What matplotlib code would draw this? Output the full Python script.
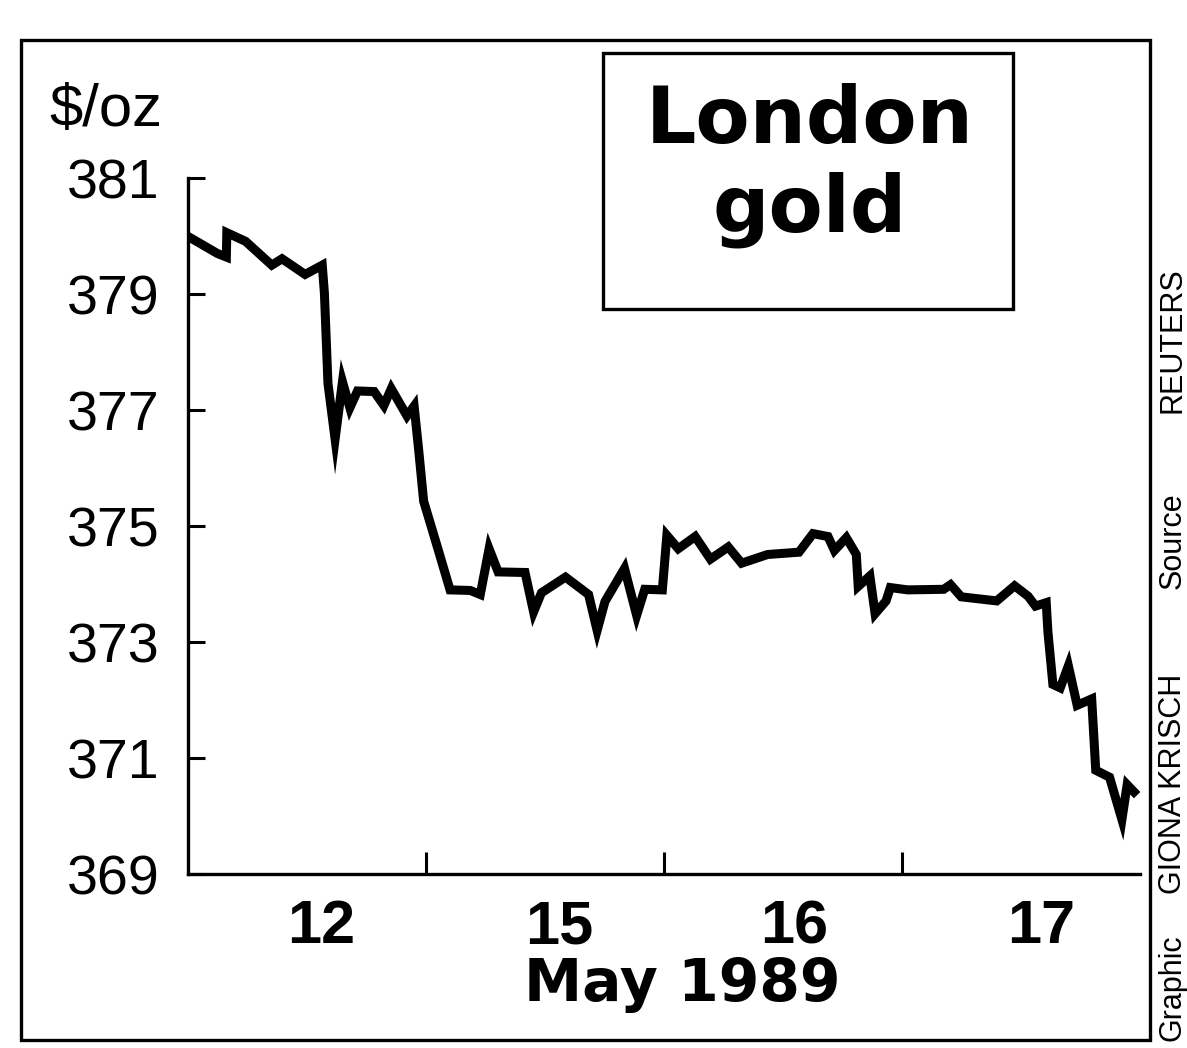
import matplotlib
matplotlib.use("Agg")
import matplotlib.pyplot as plt
from matplotlib.patches import Rectangle

# ---- data ----
day_labels = ["12", "15", "16", "17"]
year_label = "May 1989"
y_ticks = [369, 371, 373, 375, 377, 379, 381]
# x in trading-day units (0 = start of 12 May, 4 = end of 17 May)
t = [0.00, 0.126, 0.163, 0.165, 0.244, 0.354, 0.397, 0.494, 0.566, 0.575,
     0.59, 0.62, 0.651, 0.682, 0.714, 0.784, 0.825, 0.856, 0.922, 0.952,
     0.972, 0.992, 1.054, 1.103, 1.188, 1.23, 1.267, 1.305, 1.418, 1.454,
     1.487, 1.588, 1.685, 1.721, 1.754, 1.836, 1.887, 1.921, 1.995, 2.014,
     2.062, 2.133, 2.197, 2.272, 2.328, 2.437, 2.569, 2.628, 2.691, 2.718,
     2.768, 2.810, 2.818, 2.867, 2.889, 2.935, 2.953, 3.026, 3.177, 3.206,
     3.251, 3.400, 3.475, 3.532, 3.563, 3.608, 3.615, 3.636, 3.667, 3.701,
     3.738, 3.799, 3.816, 3.874, 3.926, 3.948, 3.99]
price = [380.0, 379.70, 379.64, 380.06, 379.91, 379.50, 379.61, 379.34, 379.50, 379.02,
         377.46, 376.5, 377.49, 377.04, 377.33, 377.32, 377.08, 377.37, 376.90, 377.07,
         376.28, 375.43, 374.58, 373.90, 373.89, 373.82, 374.61, 374.21, 374.20, 373.52,
         373.85, 374.12, 373.82, 373.20, 373.70, 374.27, 373.46, 373.91, 373.90, 374.84,
         374.61, 374.82, 374.43, 374.64, 374.36, 374.51, 374.55, 374.87, 374.82, 374.58,
         374.80, 374.51, 373.96, 374.14, 373.49, 373.71, 373.94, 373.90, 373.91, 373.99,
         373.78, 373.71, 373.97, 373.79, 373.62, 373.68, 373.18, 372.27, 372.21, 372.59,
         371.91, 372.02, 370.79, 370.67, 369.94, 370.54, 370.36]

sans = ["Liberation Sans", "DejaVu Sans"]

fig = plt.figure(figsize=(11.87, 10.48), dpi=100)
fig.patch.set_facecolor("white")

ax = fig.add_axes([0.158, 0.166, 0.802, 0.664])
ax.plot(t, price, color="black", lw=6.5, solid_joinstyle="miter", solid_capstyle="butt")
ax.set_xlim(0, 4)
ax.set_ylim(369, 381)

for s in ["top", "right"]:
    ax.spines[s].set_visible(False)
for s in ["left", "bottom"]:
    ax.spines[s].set_linewidth(2.4)
    ax.spines[s].set_color("black")

ax.set_yticks(y_ticks)
ax.set_yticklabels([str(v) for v in y_ticks], fontfamily=sans, fontsize=40)
ax.tick_params(axis="y", direction="in", length=12, width=2.2, pad=20, colors="black")

ax.set_xticks([1, 2, 3], minor=True)
ax.set_xticks([0.56, 1.56, 2.55, 3.585])
ax.set_xticklabels(day_labels, fontfamily=sans, fontweight="bold", fontsize=44)
ax.tick_params(axis="x", which="major", length=0, pad=18)
ax.tick_params(axis="x", which="minor", direction="in", length=16, width=2.2)
ax.set_xlabel(year_label, fontfamily=["DejaVu Sans"], fontweight="bold", fontsize=42)
ax.xaxis.set_label_coords(0.52, -0.118)
ax.xaxis.label.set_va("top")

# unit label
fig.text(0.089, 0.895, "$/oz", fontfamily=sans, fontsize=43, ha="center", va="center")

# title box
fig.patches.append(Rectangle((0.508, 0.705), 0.345, 0.244, transform=fig.transFigure,
                             fill=False, lw=2.4, edgecolor="black"))
fig.text(0.682, 0.885, "London", fontfamily=["DejaVu Sans"], fontweight="heavy",
         fontsize=57, ha="center", va="center")
fig.text(0.682, 0.800, "gold", fontfamily=["DejaVu Sans"], fontweight="heavy",
         fontsize=57, ha="center", va="center")

# outer frame
fig.patches.append(Rectangle((0.018, 0.008), 0.951, 0.954, transform=fig.transFigure,
                             fill=False, lw=2.4, edgecolor="black"))

# credits (vertical, right margin)
for txt, yc in [("REUTERS", 0.675), ("Source", 0.484), ("GIONA KRISCH", 0.252), ("Graphic", 0.058)]:
    fig.text(0.988, yc, txt, rotation=90, fontfamily=sans, fontsize=22,
             ha="center", va="center")

fig.savefig("out.png", dpi=100, facecolor="white")
